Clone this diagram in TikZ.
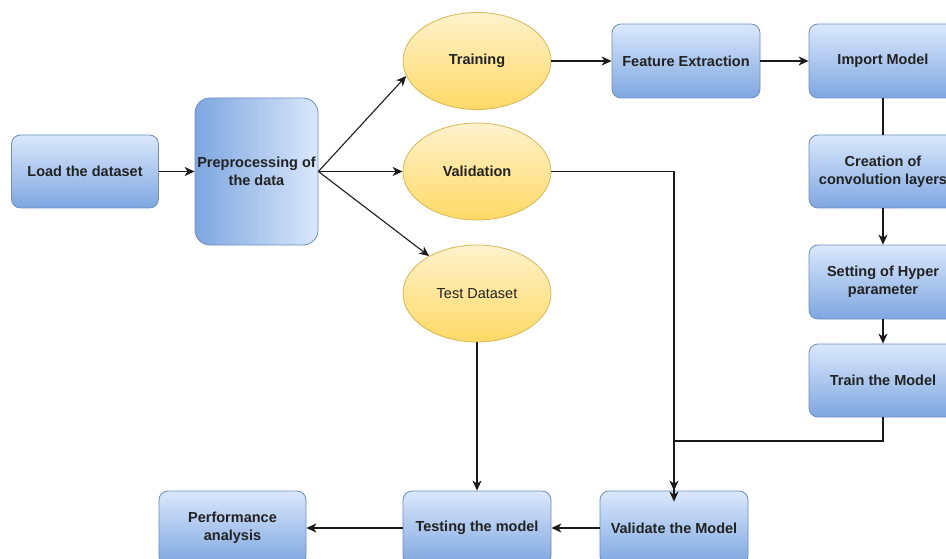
\documentclass[tikz,border=0pt]{standalone}
\usepackage{fontspec}
\setmainfont{Liberation Sans}
\usetikzlibrary{arrows.meta,shapes.geometric}
\definecolor{blueA}{HTML}{DAE8FC}
\definecolor{blueB}{HTML}{7EA6E0}
\definecolor{boxborder}{HTML}{6C8EBF}
\definecolor{yelA}{HTML}{FFF2CC}
\definecolor{yelB}{HTML}{FFD966}
\definecolor{ellborder}{HTML}{D6B656}
\definecolor{txt}{HTML}{222222}
\definecolor{lin}{HTML}{1A1A1A}
\begin{document}
\begin{tikzpicture}[x=1pt,y=-1pt,
 lbl/.style={font=\fontsize{14.5}{18}\selectfont\bfseries, text=txt, align=center, inner sep=0pt},
 box/.style={lbl, rectangle, rounded corners=9pt, draw=boxborder, line width=0.8pt, top color=blueA, bottom color=blueB, minimum width=147pt, minimum height=73pt},
 ell/.style={lbl, ellipse, draw=ellborder, line width=0.8pt, top color=yelA, bottom color=yelB, minimum width=148pt, minimum height=97pt},
 conn/.style={draw=lin, line width=1.1pt},
 arr/.style={conn, -{Stealth[length=10pt,width=9pt,inset=3pt]}}
]
\useasboundingbox (0,0) rectangle (946,559);
\clip (0,0) rectangle (946,559);

\node[box] (load) at (85,171.5) {Load the dataset};
\node[box, rounded corners=15pt, minimum width=123pt, minimum height=147pt, shading angle=90, left color=blueB, right color=blueA] (pre) at (256.5,171.5) {Preprocessing of\\the data};
\node[ell] (train) at (477,61) {Training};
\node[ell] (val) at (477,171.5) {Validation};
\node[ell, font=\fontsize{14.5}{18}\selectfont] (td) at (477,293.5) {Test Dataset};
\node[box, minimum width=148pt, minimum height=74pt] (fe) at (686,61) {Feature Extraction};
\node[box, minimum width=148pt, minimum height=74pt] (im) at (883,61) {Import Model};
\node[box, minimum width=148pt] (cc) at (883,171.5) {Creation of\\convolution layers};
\node[box, minimum width=148pt, minimum height=74pt] (sh) at (883,282) {Setting of Hyper\\parameter};
\node[box, minimum width=148pt] (trm) at (883,380.5) {Train the Model};
\node[box, minimum height=74pt] (perf) at (232.5,528) {Performance\\analysis};
\node[box, minimum width=148pt, minimum height=74pt] (tst) at (477,528) {Testing the model};
\node[box, minimum width=148pt, minimum height=74pt] (vm) at (674,528) {Validate the Model};

\coordinate (j) at (674,441);

\draw[arr] (load.east) -- (pre.west);
\draw[arr] (pre.east) -- (train.192);
\draw[arr] (pre.east) -- (val.west);
\draw[arr] (pre.east) -- (td.142);
\draw[arr] (train.east) -- (fe.west);
\draw[arr] (fe.east) -- (im.west);
\draw[conn] (im.south) -- (cc.north);
\draw[arr] (cc.south) -- (sh.north);
\draw[arr] (sh.south) -- (trm.north);
\draw[arr] (val.east) -| ([yshift=-11pt]vm.north);
\draw[arr] (trm.south) |- (j) -- (vm.north);
\draw[arr] (td.south) -- (tst.north);
\draw[arr] (vm.west) -- (tst.east);
\draw[arr] (tst.west) -- (perf.east);
\end{tikzpicture}
\end{document}
